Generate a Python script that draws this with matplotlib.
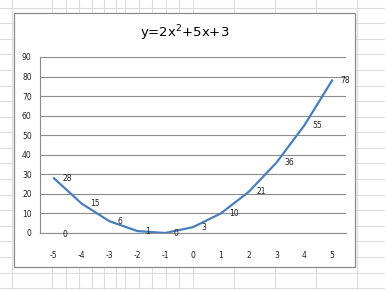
import matplotlib.pyplot as plt
from matplotlib.lines import Line2D
from matplotlib.patches import Rectangle

x_vals = [-5, -4, -3, -2, -1, 0, 1, 2, 3, 4, 5]
y_vals = [28, 15, 6, 1, 0, 3, 10, 21, 36, 55, 78]
# stray label from a hidden series in the original sheet
hidden_x = [-5]
hidden_y = [0]
y_ticks = [0, 10, 20, 30, 40, 50, 60, 70, 80, 90]
title = 'y=2x$^2$+5x+3'

W, H = 385, 290
fig = plt.figure(figsize=(W / 100, H / 100), dpi=100)
fig.patch.set_facecolor('white')

# spreadsheet grid behind the chart
col_px = [12, 52, 66, 79, 92, 104, 116, 125, 139, 152, 166, 179, 193, 234, 275, 316, 357]
for c in col_px:
    fig.add_artist(Line2D([c / W, c / W], [0, 1], color='#dcdcdc', lw=0.8, zorder=0))
r = 7.5
while r < H:
    fig.add_artist(Line2D([0, 1], [1 - r / H, 1 - r / H], color='#dcdcdc', lw=0.8, zorder=0))
    r += 15.6

# chart frame
fig.add_artist(Rectangle((14 / W, 1 - 267 / H), 341 / W, 254 / H, transform=fig.transFigure,
                         facecolor='white', edgecolor='#8c8c8c', lw=0.9, zorder=1))

ax = fig.add_axes([40 / W, 1 - 233 / H, 306 / W, 176 / H], zorder=2)
ax.patch.set_alpha(0)
pos = [i for i in range(len(x_vals))]
ax.plot(pos, y_vals, color='#4a7ebb', lw=1.6, zorder=3)
for p, v in zip(pos, y_vals):
    ax.annotate(str(v), (p, v), xytext=(6, 0), textcoords='offset points',
                ha='left', va='center', fontsize=5.5, color='#222222')
for hx, hy in zip(hidden_x, hidden_y):
    ax.annotate(str(hy), (x_vals.index(hx), hy), xytext=(6, -1), textcoords='offset points',
                ha='left', va='center', fontsize=5.5, color='#222222')

ax.set_xlim(-0.5, len(x_vals) - 0.5)
ax.set_ylim(0, 90)
ax.set_yticks(y_ticks)
ax.set_xticks(pos)
ax.set_xticklabels([str(x) for x in x_vals])
ax.tick_params(length=0, labelsize=5.5, colors='#222222')
ax.tick_params(axis='x', pad=13)
ax.tick_params(axis='y', pad=6)
ax.grid(axis='y', color='#8c8c8c', lw=0.8)
ax.set_axisbelow(True)
for s in ['top', 'right']:
    ax.spines[s].set_visible(False)
for s in ['left', 'bottom']:
    ax.spines[s].set_color('#8c8c8c')
    ax.spines[s].set_linewidth(0.8)

fig.text(185 / W, 1 - 33 / H, title, ha='center', va='center', fontsize=9.5, color='black', zorder=3)

fig.savefig('out.png', dpi=100)
